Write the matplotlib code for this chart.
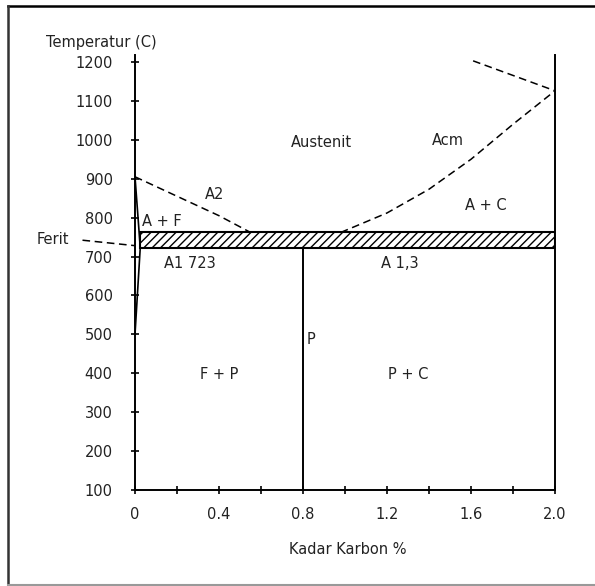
import matplotlib
matplotlib.use("Agg")
import matplotlib.pyplot as plt
from matplotlib.patches import Rectangle
from matplotlib.lines import Line2D

plt.rcParams['font.family'] = ['DejaVu Sans']

# ---- data ----
x_ticks_major = [0, 0.4, 0.8, 1.2, 1.6, 2.0]
x_tick_labels = ["0", "0.4", "0.8", "1.2", "1.6", "2.0"]
x_ticks_minor = [0.2, 0.6, 1.0, 1.4, 1.8]
y_ticks = [100, 200, 300, 400, 500, 600, 700, 800, 900, 1000, 1100, 1200]

a2_x = [0.0, 0.2, 0.4, 0.55]
a2_t = [905, 855, 805, 762]

acm_x = [0.98, 1.2, 1.4, 1.6, 1.8, 2.0]
acm_t = [762, 812, 873, 950, 1040, 1126]

upper_x = [1.61, 2.0]
upper_t = [1203, 1126]

ferrite_x = [0.0, 0.025, 0.0]
ferrite_t = [905, 723, 500]

ferit_ptr_x = [-0.25, 0.0]
ferit_ptr_t = [742, 728]

band_x = [0.025, 2.0]
band_t = [723, 762]

eutectoid_x = 0.8
right_x = 2.0

labels = ["Austenit", "Acm", "A2", "A + F", "A + C", "Ferit", "A1 723", "A 1,3", "P", "F + P", "P + C"]
label_x = [0.89, 1.49, 0.38, 0.035, 1.67, -0.47, 0.26, 1.26, 0.815, 0.40, 1.30]
label_t = [994, 997, 860, 791, 832, 744, 682, 682, 487, 396, 396]
label_ha = ["center", "center", "center", "left", "center", "left", "center", "center", "left", "center", "center"]

ylim = (100, 1218)
FS = 10.5

# ---- figure ----
fig = plt.figure(figsize=(5.95, 5.86), dpi=100)
fig.patch.set_facecolor("white")
ax = fig.add_axes([135/595, 1-490/586, 420/595, 435/586])
ax.set_xlim(0, 2.0)
ax.set_ylim(*ylim)

for s in ["top", "right"]:
    ax.spines[s].set_visible(False)
for s in ["left", "bottom"]:
    ax.spines[s].set_linewidth(1.4)

ax.set_xticks(x_ticks_major)
ax.set_xticklabels(x_tick_labels)
ax.set_xticks(x_ticks_minor, minor=True)
ax.set_yticks(y_ticks)
ax.set_yticklabels([str(v) for v in y_ticks])
ax.tick_params(axis="x", which="both", direction="inout", length=6, width=1.2, pad=9, labelsize=FS, labelcolor="#222222")
ax.tick_params(axis="y", which="both", direction="inout", length=6, width=1.2, pad=13, labelsize=FS, labelcolor="#222222")

dash = (0, (5, 3))
ax.plot(a2_x, a2_t, color="black", lw=1.1, linestyle=dash)
ax.plot(acm_x, acm_t, color="black", lw=1.1, linestyle=dash)
ax.plot(upper_x, upper_t, color="black", lw=1.1, linestyle=dash)
ax.plot(ferrite_x, ferrite_t, color="black", lw=1.2)
ax.plot(ferit_ptr_x, ferit_ptr_t, color="black", lw=1.1, linestyle=dash, clip_on=False)

ax.add_patch(Rectangle((band_x[0], band_t[0]), band_x[1]-band_x[0], band_t[1]-band_t[0],
                       facecolor="white", edgecolor="black", hatch="////", lw=1.5))
ax.plot([eutectoid_x, eutectoid_x], [ylim[0], band_t[0]], color="black", lw=1.4)
ax.plot([right_x, right_x], [ylim[0], ylim[1]], color="black", lw=1.4, clip_on=False)

for txt, lx, lt, ha in zip(labels, label_x, label_t, label_ha):
    ax.text(lx, lt, txt, ha=ha, va="center", fontsize=FS, color="#222222", clip_on=False)

fig.text(46/595, 1-42/586, "Temperatur (C)", ha="left", va="center", fontsize=FS, color="#222222")
fig.text(348/595, 1-550/586, "Kadar Karbon %", ha="center", va="center", fontsize=FS, color="#222222")

# page frame: top, left (dark) and bottom (grey); no right edge
fig.add_artist(Line2D([8/595, 1.0], [1-6/586, 1-6/586], transform=fig.transFigure, color="black", lw=1.8))
fig.add_artist(Line2D([8/595, 8/595], [1-6/586, 1-585/586], transform=fig.transFigure, color="#333333", lw=1.8))
fig.add_artist(Line2D([8/595, 1.0], [1-585/586, 1-585/586], transform=fig.transFigure, color="#999999", lw=1.5))

fig.savefig("out.png", dpi=100, facecolor="white")
